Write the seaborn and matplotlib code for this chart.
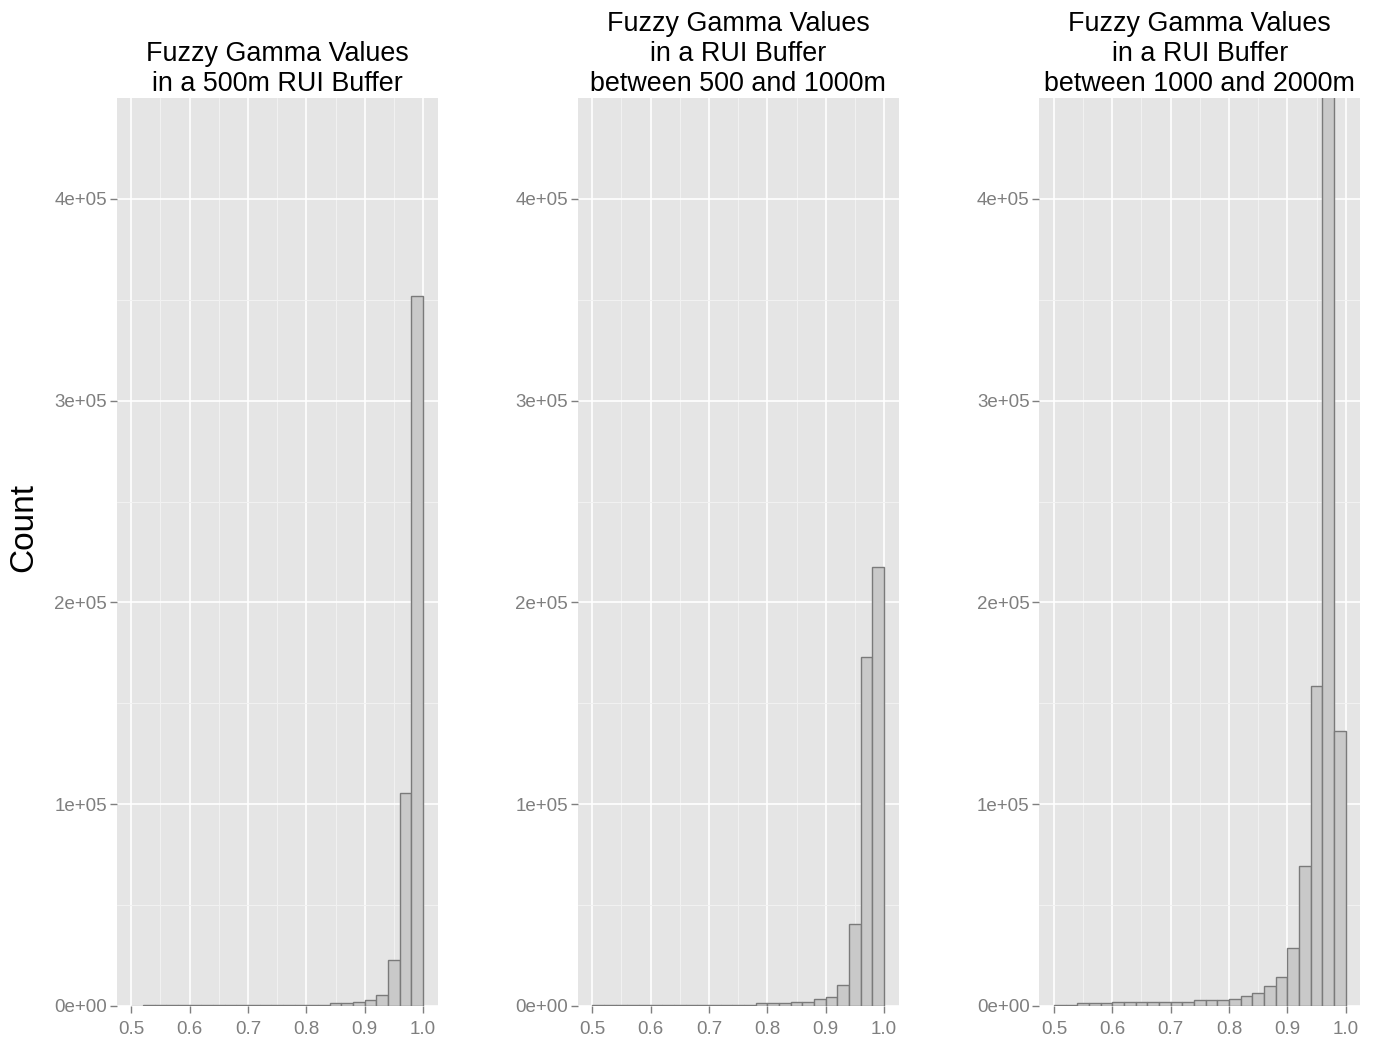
import numpy as np
import pandas as pd
import matplotlib
matplotlib.use("Agg")
import matplotlib.pyplot as plt
from matplotlib.ticker import FixedLocator, FuncFormatter
import seaborn as sns

# histogram bins (left edges), bin width 0.02
bin_left = [0.50, 0.52, 0.54, 0.56, 0.58, 0.60, 0.62, 0.64, 0.66, 0.68,
            0.70, 0.72, 0.74, 0.76, 0.78, 0.80, 0.82, 0.84, 0.86, 0.88,
            0.90, 0.92, 0.94, 0.96, 0.98]
bin_width = 0.02

# counts
counts_500 = [0, 400, 400, 400, 400, 400, 400, 400, 400, 400,
              400, 400, 400, 500, 500, 500, 600, 1300, 1300, 2000,
              2800, 5600, 22800, 105600, 352000]
counts_500_1000 = [600, 600, 600, 600, 600, 600, 600, 600, 600, 600,
                   600, 600, 600, 600, 1300, 1300, 1300, 2000, 2000, 3300,
                   4700, 10500, 40600, 173000, 217600]
counts_1000_2000 = [700, 700, 1500, 1500, 1500, 2200, 2200, 2200, 2200, 2200,
                    2200, 2200, 3000, 3000, 3000, 3700, 5200, 6600, 10100, 14600,
                    28800, 69400, 158500, 480000, 136500]

titles = ["Fuzzy Gamma Values\nin a 500m RUI Buffer",
          "Fuzzy Gamma Values\nin a RUI Buffer\nbetween 500 and 1000m",
          "Fuzzy Gamma Values\nin a RUI Buffer\nbetween 1000 and 2000m"]
x_ticks = [0.5, 0.6, 0.7, 0.8, 0.9, 1.0]
y_ticks = [0, 100000, 200000, 300000, 400000]

sns.set_style("darkgrid", {"axes.facecolor": "#E5E5E5", "grid.color": "white"})
plt.rcParams['font.family'] = ['Liberation Sans', 'DejaVu Sans']

fig = plt.figure(figsize=(13.77, 10.40), dpi=100)
lefts = [116.7, 577.7, 1039.3]
W, H = 1377, 1040
edges = [b for b in bin_left] + [bin_left[-1] + bin_width]

for left, counts, title in zip(lefts, [counts_500, counts_500_1000, counts_1000_2000], titles):
    ax = fig.add_axes([left / W, (H - 1006) / H, 321 / W, (1006 - 98) / H])
    df = pd.DataFrame({"gamma": [b + bin_width / 2 for b in bin_left], "n": counts})
    df = df[df["n"] > 0]
    sns.histplot(data=df, x="gamma", weights="n", bins=edges, ax=ax,
                 color="#C9C9C9", edgecolor="#7A7A7A", linewidth=1.0, alpha=1.0)
    ax.set_xlim(0.475, 1.025)
    ax.set_ylim(0, 450000)
    ax.xaxis.set_major_locator(FixedLocator(x_ticks))
    ax.yaxis.set_major_locator(FixedLocator(y_ticks))
    ax.xaxis.set_minor_locator(FixedLocator([0.55, 0.65, 0.75, 0.85, 0.95]))
    ax.yaxis.set_minor_locator(FixedLocator([50000, 150000, 250000, 350000]))
    ax.xaxis.set_major_formatter(FuncFormatter(lambda v, p: f"{v:.1f}"))
    ax.yaxis.set_major_formatter(FuncFormatter(lambda v, p: f"{v:.0e}"))
    ax.grid(which="major", color="white", linewidth=1.2)
    ax.grid(which="minor", color="#F2F2F2", linewidth=0.7)
    ax.set_axisbelow(True)
    for s in ax.spines.values():
        s.set_visible(False)
    ax.tick_params(which="major", bottom=True, left=True, length=5, width=1,
                   color="#7F7F7F", labelcolor="#7F7F7F", labelsize=13.5)
    ax.tick_params(axis="x", which="major", pad=6)
    ax.tick_params(axis="y", which="major", pad=2)
    ax.tick_params(which="minor", bottom=False, left=False)
    ax.set_xlabel("")
    ax.set_ylabel("")
    ax.set_title(title, fontsize=19.4, color="black", pad=5, linespacing=1.21)

fig.text(24 / W, 1 - 527 / H, "Count", rotation=90, fontsize=24,
         ha="center", va="center", color="black")

fig.savefig("out.png", dpi=100)
